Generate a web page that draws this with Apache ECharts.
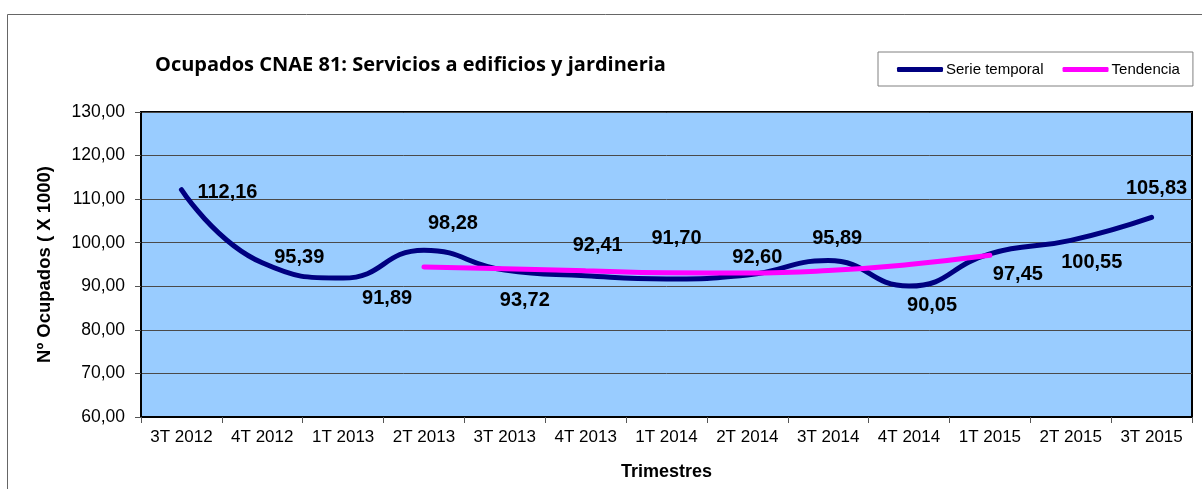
<!DOCTYPE html>
<html>
<head>
<meta charset="utf-8">
<script src="https://cdn.jsdelivr.net/npm/echarts@6/dist/echarts.min.js"></script>
<style>
  html, body { margin: 0; padding: 0; background: #fff; }
  #chart { width: 1202px; height: 489px; }
</style>
</head>
<body>
<div id="chart"></div>
<script>
// trimestres
const categories = ['3T 2012', '4T 2012', '1T 2013', '2T 2013', '3T 2013', '4T 2013', '1T 2014',
  '2T 2014', '3T 2014', '4T 2014', '1T 2015', '2T 2015', '3T 2015']
// ocupados (miles)
const serieTemporal = [112.16, 95.39, 91.89, 98.28, 93.72, 92.41, 91.70, 92.60, 95.89, 90.05, 97.45, 100.55, 105.83]
// tendencia, solo de 2T 2013 a 1T 2015
const tendencia = [null, null, null, 94.45, 94.05, 93.55, 93.1, 93.05, 93.6, 95.0, 97.1, null, null]

// desplazamiento de cada etiqueta respecto a su punto (px)
const labelOffsets = [[46, 3], [37, -5], [44, 20], [29, -27], [20, 30], [12, -30], [10, -40],
  [10, -17], [9, -22], [23, 19], [28, 21], [21, 22], [5, -29]]

const fmt = v => v.toFixed(2).replace('.', ',')

const chart = echarts.init(document.getElementById('chart'))

const option = {
  animation: false,
  backgroundColor: '#fff',
  textStyle: { fontFamily: 'Arial, "Liberation Sans", sans-serif' },
  title: {
    text: 'Ocupados CNAE 81: Servicios a edificios y jardineria',
    left: 150,
    top: 50,
    textStyle: { fontFamily: '"Open Sans", sans-serif', fontWeight: 'bold', fontSize: 20, color: '#000' }
  },
  legend: {
    left: 878,
    top: 52,
    padding: [10, 13, 9, 19],
    borderColor: '#808080',
    borderWidth: 1,
    itemGap: 19,
    itemWidth: 46,
    itemHeight: 5,
    icon: 'roundRect',
    textStyle: { fontSize: 15, color: '#000', padding: [0, 0, 0, -2] },
    data: ['Serie temporal', 'Tendencia']
  },
  graphic: [{
    type: 'rect',
    silent: true,
    shape: { x: 7.5, y: 14.5, width: 1300, height: 600 },
    style: { fill: 'none', stroke: '#666', lineWidth: 1 }
  }],
  grid: {
    left: 141,
    right: 10,
    top: 112,
    bottom: 72,
    show: true,
    backgroundColor: '#99CCFF',
    borderColor: '#000',
    borderWidth: 2
  },
  xAxis: {
    type: 'category',
    data: categories,
    boundaryGap: true,
    name: 'Trimestres',
    nameLocation: 'middle',
    nameGap: 46,
    nameTextStyle: { fontWeight: 'bold', fontSize: 18, color: '#000' },
    axisLine: { lineStyle: { color: '#000', width: 2 } },
    axisTick: { show: true, interval: 0, length: 6, lineStyle: { color: '#555' } },
    axisLabel: { interval: 0, hideOverlap: false, fontSize: 17, color: '#000', margin: 12 }
  },
  yAxis: {
    type: 'value',
    min: 60,
    max: 130,
    interval: 10,
    name: 'Nº Ocupados ( X 1000)',
    nameLocation: 'middle',
    nameGap: 87,
    nameTextStyle: { fontWeight: 'bold', fontSize: 18.5, color: '#000' },
    axisLine: { show: true, lineStyle: { color: '#000', width: 2 } },
    axisTick: { show: true, length: 6, lineStyle: { color: '#555' } },
    axisLabel: { fontSize: 17.5, color: '#000', margin: 16, formatter: v => fmt(v) },
    splitLine: { show: true, lineStyle: { color: '#4a4a4a', width: 1 } }
  },
  series: [
    {
      name: 'Serie temporal',
      type: 'line',
      smooth: 0.5,
      symbol: 'circle',
      symbolSize: 1,
      showSymbol: true,
      lineStyle: { color: '#000080', width: 5, cap: 'round' },
      itemStyle: { color: '#000080' },
      z: 2,
      data: serieTemporal.map((v, i) => ({
        value: v,
        label: {
          show: true,
          position: 'inside',
          offset: labelOffsets[i],
          formatter: p => fmt(p.value),
          fontWeight: 'bold',
          fontSize: 20,
          color: '#000'
        }
      }))
    },
    {
      name: 'Tendencia',
      type: 'line',
      smooth: 0.5,
      showSymbol: false,
      lineStyle: { color: '#FF00FF', width: 5, cap: 'round' },
      itemStyle: { color: '#FF00FF' },
      z: 3,
      data: tendencia
    }
  ]
}

chart.setOption(option)
</script>
</body>
</html>
